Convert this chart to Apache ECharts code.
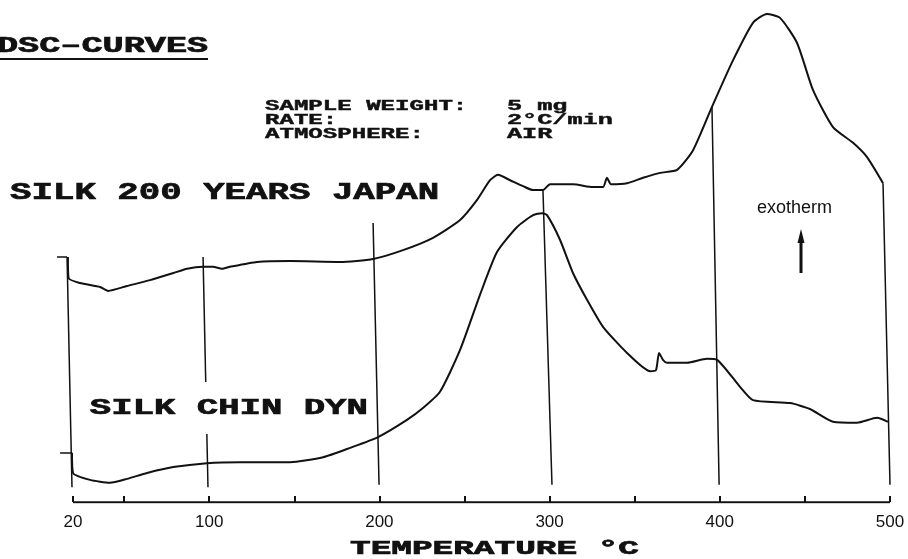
<!DOCTYPE html>
<html>
<head>
<meta charset="utf-8">
<script src="https://cdn.jsdelivr.net/npm/echarts@6/dist/echarts.min.js"></script>
<style>
  html, body { margin: 0; padding: 0; background: #fff; }
  #chart { width: 908px; height: 559px; }
</style>
</head>
<body>
<div id="chart"></div>
<script>
// DSC curves, temperature (°C) vs heat flow (arbitrary units, exotherm up)
var japanCurve = [
    [17.0, 49.8], [17.4, 45.5], [24.1, 44.5], [35.9, 43.7], [40.6, 42.9], [51.7, 43.9],
    [65.2, 45.1], [78.7, 46.5], [87.0, 47.4], [96.4, 47.8], [102.2, 47.8], [107.5, 47.4],
    [112.2, 47.8], [128.1, 48.8], [147.5, 49.0], [176.9, 48.8], [196.3, 49.4], [213.9, 51.2],
    [231.5, 53.7], [247.4, 57.3], [257.4, 61.4], [265.0, 65.4], [269.7, 66.5], [276.8, 65.4],
    [284.4, 64.2], [290.3, 63.4], [296.1, 63.4], [300.3, 64.6], [313.8, 64.6], [325.5, 64.0],
    [331.4, 64.0], [333.7, 65.9], [336.1, 64.6], [345.5, 64.8], [354.9, 65.9], [364.9, 66.9],
    [374.9, 67.5], [384.3, 71.5], [395.4, 80.3], [407.8, 89.8], [419.5, 97.4], [427.7, 99.2],
    [435.4, 98.4], [445.4, 93.3], [454.8, 83.7], [466.5, 76.2], [478.3, 73.0], [486.5, 70.1],
    [495.9, 64.8]
];
var chinCurve = [
    [19.4, 10.0], [20.0, 5.9], [30.0, 4.5], [41.7, 3.9], [51.7, 4.7], [63.5, 5.9],
    [78.8, 7.1], [98.7, 7.9], [118.1, 8.1], [147.5, 8.1], [166.9, 9.1], [182.7, 11.0],
    [199.2, 13.2], [216.2, 16.7], [225.6, 19.1], [235.6, 22.4], [247.4, 30.9], [259.1, 42.1],
    [269.1, 50.8], [280.9, 55.9], [290.3, 58.3], [295.6, 58.7], [298.5, 58.3], [306.1, 53.3],
    [313.8, 46.5], [322.0, 41.1], [331.4, 35.6], [345.5, 30.3], [359.0, 26.6], [362.5, 26.8],
    [364.3, 30.3], [366.6, 28.9], [369.0, 28.3], [380.8, 28.3], [392.5, 29.1], [398.4, 28.9],
    [411.9, 23.4], [419.5, 20.7], [441.3, 20.1], [453.0, 18.9], [466.5, 16.3], [480.6, 16.1],
    [492.4, 17.1], [498.8, 16.3]
];
// recorder temperature marks: [T top, value top, T bottom, value bottom]
var markerLines = [
    [16.5, 49.8, 19.4, 3.0],
    [96.4, 49.8, 99.3, 3.0],
    [196.3, 56.7, 199.8, 3.5],
    [296.1, 63.4, 301.4, 3.5],
    [395.4, 80.3, 399.6, 3.5],
    [495.9, 64.8, 500.0, 3.5]
];
// short baseline marks at the left
var baseTicks = [
    [10.6, 49.8, 16.5, 49.8],
    [12.4, 10.0, 19.4, 10.0]
];
// temperature axis runs 20..500
var axisRange = [20, 500];
var tickValues = [20, 50, 100, 150, 200, 250, 300, 350, 400, 450, 500];
var labelValues = [20, 100, 200, 300, 400, 500];

var ink = '#111';
var typeFont = '"Liberation Mono", "DejaVu Sans Mono", monospace';

function toSegments(list) {
    return list.map(function (m) {
        return { coords: [[m[0], m[1]], [m[2], m[3]]] };
    });
}

function caption(text, x, y, size, scaleX, extra) {
    return {
        type: 'text',
        x: x,
        y: y,
        scaleX: scaleX,
        z: 50,
        style: Object.assign({
            text: text,
            fontFamily: typeFont,
            fontWeight: 'bold',
            fontSize: size,
            fill: ink,
            stroke: ink,
            lineWidth: 0.7,
            align: 'left',
            textAlign: 'left',
            verticalAlign: 'middle',
            textVerticalAlign: 'middle'
        }, extra || {})
    };
}

var myChart = echarts.init(document.getElementById('chart'));
var option = {
    backgroundColor: '#fff',
    animation: false,
    // x from 10 so the left baseline marks sit inside the grid
    grid: { left: 56, right: 18, top: 10, bottom: 57 },
    xAxis: {
        type: 'value',
        min: 10,
        max: 500,
        axisLine: { show: false },
        axisTick: {
            show: true,
            inside: true,
            length: 6,
            customValues: tickValues,
            lineStyle: { color: ink, width: 2 }
        },
        axisLabel: {
            customValues: labelValues,
            margin: 12,
            color: ink,
            fontSize: 17,
            fontFamily: '"Liberation Sans", Arial, sans-serif'
        },
        splitLine: { show: false }
    },
    yAxis: {
        type: 'value',
        min: 0,
        max: 100,
        show: false
    },
    series: [
        {
            name: 'SILK 200 YEARS JAPAN',
            type: 'line',
            data: japanCurve,
            showSymbol: false,
            smooth: 0.2,
            lineStyle: { color: ink, width: 2 }
        },
        {
            name: 'SILK CHIN DYN',
            type: 'line',
            data: chinCurve,
            showSymbol: false,
            smooth: 0.2,
            lineStyle: { color: ink, width: 2 }
        },
        {
            type: 'lines',
            coordinateSystem: 'cartesian2d',
            data: toSegments(markerLines),
            silent: true,
            lineStyle: { color: ink, width: 1.5, opacity: 1 }
        },
        {
            type: 'lines',
            coordinateSystem: 'cartesian2d',
            data: toSegments(baseTicks),
            silent: true,
            lineStyle: { color: ink, width: 1.5, opacity: 1 }
        },
        {
            // temperature axis line
            type: 'lines',
            coordinateSystem: 'cartesian2d',
            data: [{ coords: [[axisRange[0], 0], [axisRange[1], 0]] }],
            silent: true,
            lineStyle: { color: ink, width: 2.5, opacity: 1 }
        }
    ],
    graphic: [
        caption('DSC\u2013CURVES', -3, 46, 22, 1.6),
        { type: 'line', z: 50, shape: { x1: 0, y1: 59, x2: 208, y2: 59 }, style: { stroke: ink, lineWidth: 2 } },
        caption('SAMPLE WEIGHT:', 265, 106, 14, 1.72, { lineWidth: 0.4 }),
        caption('RATE:', 265, 120, 14, 1.72, { lineWidth: 0.4 }),
        caption('ATMOSPHERE:', 265, 134, 14, 1.72, { lineWidth: 0.4 }),
        caption('5 mg', 507, 106, 14, 1.8, { lineWidth: 0.4 }),
        caption('2\u00b0C/min', 507, 120, 14, 1.8, { lineWidth: 0.4 }),
        caption('AIR', 507, 134, 14, 1.8, { lineWidth: 0.4 }),
        caption('SILK 200 YEARS JAPAN', 10, 193, 24, 1.49),
        caption('SILK CHIN DYN', 85, 408, 22, 1.62, { backgroundColor: '#fff', padding: [15, 3] }),
        caption('TEMPERATURE \u00b0C', 350, 549, 20, 1.72),
        {
            type: 'text', x: 757, y: 208, z: 50,
            style: {
                text: 'exotherm', fontFamily: '"Liberation Sans", Arial, sans-serif', fontSize: 18,
                fill: ink, align: 'left', textAlign: 'left', verticalAlign: 'middle', textVerticalAlign: 'middle'
            }
        },
        { type: 'line', z: 50, shape: { x1: 801, y1: 273, x2: 801, y2: 240 }, style: { stroke: ink, lineWidth: 3 } },
        { type: 'polygon', z: 50, shape: { points: [[801, 229], [797.5, 243], [804.5, 243]] }, style: { fill: ink } }
    ]
};
myChart.setOption(option);
</script>
</body>
</html>
